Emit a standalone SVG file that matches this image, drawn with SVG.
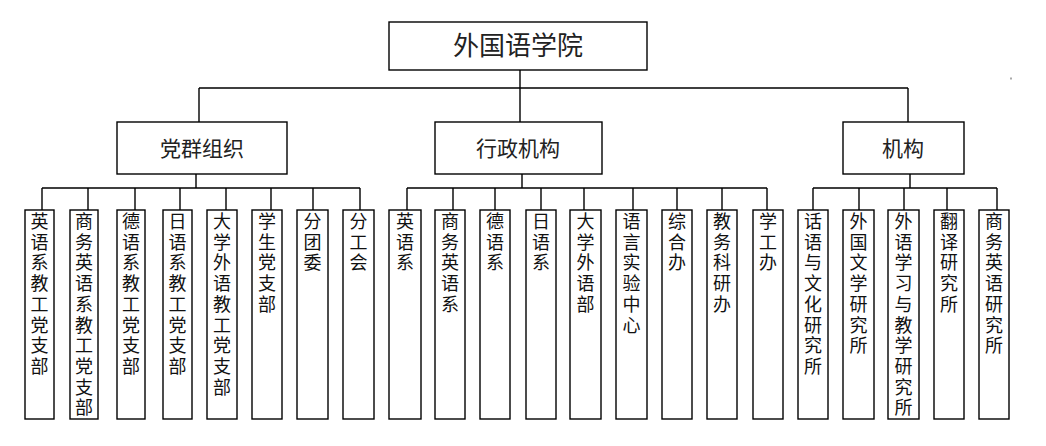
<svg xmlns="http://www.w3.org/2000/svg" width="1046" height="446" viewBox="0 0 1046 446">
<style>
.box{fill:#fff;stroke:#000;stroke-width:1.4}
.ln{stroke:#000;stroke-width:1.4;fill:none}
.t{font-family:"Noto Sans CJK SC","Noto Sans CJK JP",sans-serif;fill:#111;text-anchor:middle}
.h1{font-size:26px;fill:#222}
.h2{font-size:21px;fill:#222}
.v{font-size:18px}
</style>
<rect width="1046" height="446" fill="#fff"/>
<g id="connectors">
<path class="ln" d="M520 70V122M199 88H908M199 88V122M908 88V122"/>
<path class="ln" d="M196 174V188M42 188H360M42 188V210M88 188V210M135 188V210M180 188V210M226 188V210M271 188V210M313 188V210M360 188V210"/>
<path class="ln" d="M522 174V188M407 188H767M407 188V210M453 188V210M495 188V210M541 188V210M584 188V210M633 188V210M677 188V210M722 188V210M767 188V210"/>
<path class="ln" d="M910 174V188M813 188H997M813 188V210M859 188V210M904 188V210M947 188V210M997 188V210"/>
</g>
<g id="root"><rect class="box" x="389" y="22" width="258" height="48"/><text class="t h1" x="518" y="55">外国语学院</text></g>
<g id="dangqun"><rect class="box" x="117" y="122" width="170" height="52"/><text class="t h2" x="202" y="156">党群组织</text></g>
<g id="xingzheng"><rect class="box" x="435" y="122" width="167" height="52"/><text class="t h2" x="518" y="156">行政机构</text></g>
<g id="jigou"><rect class="box" x="843" y="122" width="121" height="52"/><text class="t h2" x="903" y="156">机构</text></g>

<g id="g1n1"><rect class="box" x="25" y="210" width="29" height="209"/><text class="t v" x="39.5 39.5 39.5 39.5 39.5 39.5 39.5 39.5" y="228 248.7 269.4 290.1 310.8 331.5 352.2 372.9">英语系教工党支部</text></g>
<g id="g1n2"><rect class="box" x="70" y="210" width="28" height="209"/><text class="t v" x="84 84 84 84 84 84 84 84 84 84" y="228 248.7 269.4 290.1 310.8 331.5 352.2 372.9 393.6 414.3">商务英语系教工党支部</text></g>
<g id="g1n3"><rect class="box" x="117" y="210" width="28" height="209"/><text class="t v" x="131 131 131 131 131 131 131 131" y="228 248.7 269.4 290.1 310.8 331.5 352.2 372.9">德语系教工党支部</text></g>
<g id="g1n4"><rect class="box" x="163" y="210" width="29" height="209"/><text class="t v" x="177.5 177.5 177.5 177.5 177.5 177.5 177.5 177.5" y="228 248.7 269.4 290.1 310.8 331.5 352.2 372.9">日语系教工党支部</text></g>
<g id="g1n5"><rect class="box" x="207" y="210" width="30" height="209"/><text class="t v" x="222 222 222 222 222 222 222 222 222" y="228 248.7 269.4 290.1 310.8 331.5 352.2 372.9 393.6">大学外语教工党支部</text></g>
<g id="g1n6"><rect class="box" x="252" y="210" width="30" height="209"/><text class="t v" x="267 267 267 267 267" y="228 248.7 269.4 290.1 310.8">学生党支部</text></g>
<g id="g1n7"><rect class="box" x="297" y="210" width="31" height="209"/><text class="t v" x="312.5 312.5 312.5" y="228 248.7 269.4">分团委</text></g>
<g id="g1n8"><rect class="box" x="343" y="210" width="31" height="209"/><text class="t v" x="358.5 358.5 358.5" y="228 248.7 269.4">分工会</text></g>

<g id="g2n1"><rect class="box" x="389" y="210" width="32" height="209"/><text class="t v" x="405 405 405" y="228 248.7 269.4">英语系</text></g>
<g id="g2n2"><rect class="box" x="435" y="210" width="30" height="209"/><text class="t v" x="450 450 450 450 450" y="228 248.7 269.4 290.1 310.8">商务英语系</text></g>
<g id="g2n3"><rect class="box" x="480" y="210" width="30" height="209"/><text class="t v" x="495 495 495" y="228 248.7 269.4">德语系</text></g>
<g id="g2n4"><rect class="box" x="526" y="210" width="30" height="209"/><text class="t v" x="541 541 541" y="228 248.7 269.4">日语系</text></g>
<g id="g2n5"><rect class="box" x="570" y="210" width="31" height="209"/><text class="t v" x="585.5 585.5 585.5 585.5 585.5" y="228 248.7 269.4 290.1 310.8">大学外语部</text></g>
<g id="g2n6"><rect class="box" x="616" y="210" width="31" height="209"/><text class="t v" x="631.5 631.5 631.5 631.5 631.5 631.5" y="228 248.7 269.4 290.1 310.8 331.5">语言实验中心</text></g>
<g id="g2n7"><rect class="box" x="662" y="210" width="30" height="209"/><text class="t v" x="677 677 677" y="228 248.7 269.4">综合办</text></g>
<g id="g2n8"><rect class="box" x="707" y="210" width="30" height="209"/><text class="t v" x="722 722 722 722 722" y="228 248.7 269.4 290.1 310.8">教务科研办</text></g>
<g id="g2n9"><rect class="box" x="753" y="210" width="30" height="209"/><text class="t v" x="768 768 768" y="228 248.7 269.4">学工办</text></g>

<g id="g3n1"><rect class="box" x="798" y="210" width="30" height="209"/><text class="t v" x="813 813 813 813 813 813 813 813" y="228 248.7 269.4 290.1 310.8 331.5 352.2 372.9">话语与文化研究所</text></g>
<g id="g3n2"><rect class="box" x="843" y="210" width="31" height="209"/><text class="t v" x="858.5 858.5 858.5 858.5 858.5 858.5 858.5" y="228 248.7 269.4 290.1 310.8 331.5 352.2">外国文学研究所</text></g>
<g id="g3n3"><rect class="box" x="888" y="210" width="31" height="209"/><text class="t v" x="903.5 903.5 903.5 903.5 903.5 903.5 903.5 903.5 903.5 903.5" y="228 248.7 269.4 290.1 310.8 331.5 352.2 372.9 393.6 414.3">外语学习与教学研究所</text></g>
<g id="g3n4"><rect class="box" x="934" y="210" width="30" height="209"/><text class="t v" x="949 949 949 949 949" y="228 248.7 269.4 290.1 310.8">翻译研究所</text></g>
<g id="g3n5"><rect class="box" x="979" y="210" width="30" height="209"/><text class="t v" x="994 994 994 994 994 994 994" y="228 248.7 269.4 290.1 310.8 331.5 352.2">商务英语研究所</text></g>
<rect x="1010.5" y="77.5" width="1" height="2" fill="#555"/>
</svg>
